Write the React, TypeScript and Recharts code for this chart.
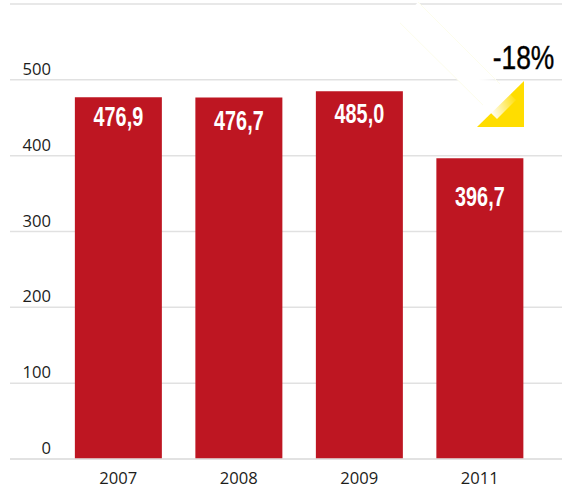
import React from "react";
import { BarChart, Bar, XAxis, YAxis, CartesianGrid, LabelList, Customized } from "recharts";

const years = ["2007", "2008", "2009", "2011"];
const revenue = [476.9, 476.7, 485.0, 396.7];
const yTicks = [0, 100, 200, 300, 400, 500, 600];
const changeLabel = "-18%";

const rows = years.map((year, i) => ({ year, revenue: revenue[i] }));

// how far below the top of each bar its value sits
const labelDrop = [19, 23, 22, 38];

const AXIS_FONT = "'Open Sans', 'Noto Sans', sans-serif";
const VALUE_FONT = "'Liberation Sans', sans-serif";

function YTick({ y, payload }: any) {
  if (payload.value === 600) return null;
  return (
    <text x={51} y={y - 5} textAnchor="end" fontFamily={AXIS_FONT} fontSize={16.6} fill="#1d1d1b">
      {payload.value}
    </text>
  );
}

function ValueLabel({ x, y, width, value, index }: any) {
  return (
    <text
      transform={`translate(${x + width / 2} ${y + labelDrop[index]}) scale(0.72 1)`}
      textAnchor="middle"
      dominantBaseline="central"
      fontFamily={VALUE_FONT}
      fontWeight={700}
      fontSize={27.5}
      fill="#ffffff"
    >
      {Number(value).toFixed(1).replace(".", ",")}
    </text>
  );
}

// yellow arrow with its fading tail, and the change figure above it
function ChangeBadge() {
  return (
    <g>
      <defs>
        <linearGradient id="tail" gradientUnits="userSpaceOnUse" x1="488" y1="106" x2="514" y2="97">
          <stop offset="0" stopColor="#ffffff" />
          <stop offset="1" stopColor="#ffffff" stopOpacity={0.1} />
        </linearGradient>
      </defs>
      <polygon points="477,127 524,127 524,81" fill="#ffdd00" />
      <polygon points="418,2 516,100 497,119 400,23" fill="url(#tail)" stroke="none" />
      <line x1="418" y1="2" x2="500" y2="84" stroke="#fdfdec" strokeWidth={1} />
      <line x1="400" y1="23" x2="483" y2="105" stroke="#fdfdec" strokeWidth={1} />
      <text
        transform="translate(523.5 57) scale(0.8 1)"
        textAnchor="middle"
        dominantBaseline="central"
        fontFamily={VALUE_FONT}
        fontSize={33}
        stroke="#000000"
        strokeWidth={0.4}
        fill="#000000"
      >
        {changeLabel}
      </text>
    </g>
  );
}

export default function App() {
  return (
    <div style={{ position: "absolute", left: 0, top: 0 }}>
      <BarChart
        width={562}
        height={487}
        data={rows}
        barCategoryGap="14%"
        margin={{ top: 4, right: 0, bottom: 0, left: 9 }}
      >
        <CartesianGrid vertical={false} stroke="#e1e1e1" strokeWidth={1.5} />
        <XAxis
          dataKey="year"
          height={28}
          padding={{ left: 48, right: 22 }}
          tickLine={false}
          axisLine={{ stroke: "#e1e1e1", strokeWidth: 1.5 }}
          tick={{ fontFamily: AXIS_FONT, fontSize: 16.6, fill: "#1d1d1b" }}
          tickMargin={7}
        />
        <YAxis
          width={1}
          domain={[0, 600]}
          ticks={yTicks}
          interval={0}
          axisLine={false}
          tickLine={false}
          tick={<YTick />}
        />
        <Bar dataKey="revenue" fill="#be1622" isAnimationActive={false}>
          <LabelList dataKey="revenue" content={<ValueLabel />} />
        </Bar>
        <Customized component={<ChangeBadge />} />
      </BarChart>
    </div>
  );
}
